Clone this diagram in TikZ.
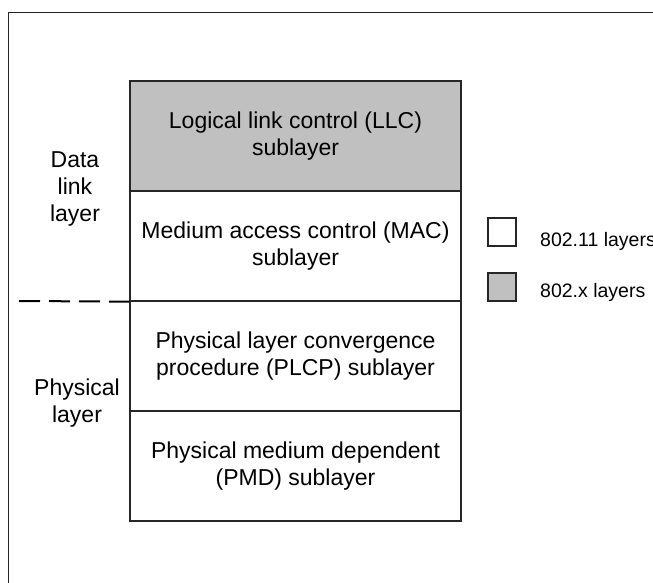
\documentclass[tikz,border=0pt]{standalone}
\usepackage{fontspec}
\setmainfont{Liberation Sans}
\definecolor{sublayergray}{HTML}{C0C0C0}
\definecolor{edgegray}{HTML}{262626}
\begin{document}
\begin{tikzpicture}[x=1pt,y=-1pt,
  sublayer/.style={draw=edgegray, line width=1.3pt, rectangle,
    minimum width=331pt, minimum height=110pt, inner sep=0pt,
    align=center, font=\fontsize{23}{27}\selectfont},
  sidelabel/.style={align=center, inner sep=0pt, font=\fontsize{23}{27}\selectfont},
  keybox/.style={draw=edgegray, line width=1.3pt, rectangle,
    minimum width=28pt, minimum height=28pt, inner sep=0pt},
  keytext/.style={anchor=base west, inner sep=0pt, font=\fontsize{19.5}{22}\selectfont},
  divider/.style={line width=2pt, dash pattern=on 21pt off 9pt}]
\useasboundingbox (0,0) rectangle (653,583);
% outer frame (runs off the right and bottom edges)
\draw[line width=1.5pt, edgegray] (8.5,590) |- (660,12.5);

% protocol stack
\node[sublayer, fill=sublayergray] (llc)  at (295.5,136) {Logical link control (LLC)\\sublayer};
\node[sublayer] (mac)  at (295.5,246) {Medium access control (MAC)\\sublayer};
\node[sublayer] (plcp) at (295.5,356) {Physical layer convergence\\procedure (PLCP) sublayer};
\node[sublayer] (pmd)  at (295.5,466) {Physical medium dependent\\(PMD) sublayer};

% layer names on the left
\node[sidelabel] (dll) at (75,189) {Data\\link\\layer};
\node[sidelabel] (phy) at (77,403) {Physical\\layer};
\coordinate (dashstart) at (19,301);
\draw[divider] (dashstart) -- (mac.south west);

% key
\node[keybox] (key11) at (502,232) {};
\node[keybox, fill=sublayergray] (keyx) at (502,287) {};
\node[keytext] (key11text) at (540,246) {802.11 layers};
\node[keytext] (keyxtext) at (540,297) {802.x layers};
\end{tikzpicture}
\end{document}
